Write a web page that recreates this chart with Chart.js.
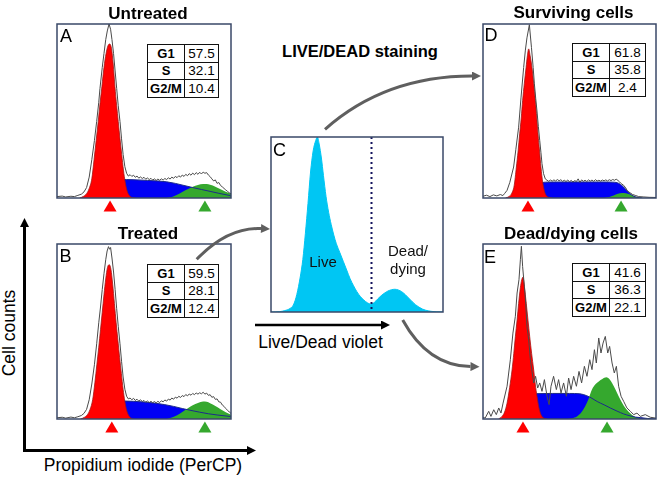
<!DOCTYPE html>
<html>
<head>
<meta charset="utf-8">
<script src="https://cdn.jsdelivr.net/npm/chart.js@4.4.0/dist/chart.umd.min.js"></script>
<style>
  html, body { margin: 0; padding: 0; background: #fff; }
  #fig { position: relative; width: 661px; height: 479px; overflow: hidden;
         font-family: "Liberation Sans", Arial, sans-serif; color: #000; }
  .txt { position: absolute; white-space: nowrap; line-height: 1; transform: translate(-50%, -50%); }
  .ttl { font-weight: bold; font-size: 17px; }
  .ax { font-size: 17.5px; }
  .let { position: absolute; font-size: 18px; line-height: 18px; }
  .pnl { position: absolute; }
  table.ph { position: absolute; border-collapse: collapse; table-layout: fixed; background: #fff; }
  table.ph td { border: 1px solid #111; padding: 0; height: 16.6px; text-align: center;
                font-size: 13.5px; line-height: 1; }
  table.ph td.k { font-weight: bold; font-size: 13px; }
  svg { position: absolute; left: 0; top: 0; pointer-events: none; }
</style>
</head>
<body>
<div id="fig">
  <div class="pnl" id="panelA"></div>
  <div class="pnl" id="panelB"></div>
  <div class="pnl" id="panelC"></div>
  <div class="pnl" id="panelD"></div>
  <div class="pnl" id="panelE"></div>

  <div class="txt ttl" style="left:148px; top:12.5px;">Untreated</div>
  <div class="txt ttl" style="left:148px; top:233px;">Treated</div>
  <div class="txt ttl" style="left:360px; top:51px; font-size:16.5px;">LIVE/DEAD staining</div>
  <div class="txt ttl" style="left:573.5px; top:11.8px;">Surviving cells</div>
  <div class="txt ttl" style="left:571px; top:233px;">Dead/dying cells</div>

  <div class="let" style="left:60px; top:26.6px;">A</div>
  <div class="let" style="left:59.5px; top:247px;">B</div>
  <div class="let" style="left:273px; top:141px;">C</div>
  <div class="let" style="left:484.5px; top:26px;">D</div>
  <div class="let" style="left:484px; top:248px;">E</div>

  <div class="txt" style="left:323px; top:260.5px; font-size:15px; color:#111;">Live</div>
  <div style="position:absolute; left:408px; top:241.5px; transform:translateX(-50%); font-size:15px; line-height:18px; text-align:center; color:#111;">Dead/<br>dying</div>

  <div class="txt ax" style="left:320.5px; top:343px;">Live/Dead violet</div>
  <div class="txt ax" style="left:143px; top:466px;">Propidium iodide (PerCP)</div>
  <div class="txt ax" style="left:10px; top:333px; transform:translate(-50%,-50%) rotate(-90deg);">Cell counts</div>

  <svg width="661" height="479" viewBox="0 0 661 479">
    <defs>
      <marker id="blk" viewBox="0 0 10 10" refX="0" refY="5" markerWidth="9" markerHeight="9"
              markerUnits="userSpaceOnUse" orient="auto">
        <path d="M0 0 L10 5 L0 10 z" fill="#000"/>
      </marker>
      <marker id="gry" viewBox="0 0 10 10" refX="0" refY="5" markerWidth="10" markerHeight="9"
              markerUnits="userSpaceOnUse" orient="auto">
        <path d="M0 0 L10 5 L0 10 z" fill="#5f5f5f"/>
      </marker>
    </defs>
    <path d="M24.5 451.5 L24.5 227" stroke="#000" stroke-width="3" fill="none" marker-end="url(#blk)"/>
    <path d="M23 450.5 L247 450.5" stroke="#000" stroke-width="3" fill="none" marker-end="url(#blk)"/>
    <path d="M255 325 L381 325" stroke="#000" stroke-width="2.5" fill="none" marker-end="url(#blk)"/>
    <path d="M196.7 259.3 Q228 227 261 228.6" stroke="#5f5f5f" stroke-width="3" fill="none" marker-end="url(#gry)"/>
    <path d="M325 129.3 Q385 76 472 76" stroke="#5f5f5f" stroke-width="3" fill="none" marker-end="url(#gry)"/>
    <path d="M402.7 320 Q428 366 470.5 366.6" stroke="#5f5f5f" stroke-width="3" fill="none" marker-end="url(#gry)"/>
  </svg>
</div>

<script>
// x: PI / Live-Dead channel (0-100 across the frame), y: cell counts (0-100 = top of frame)

const phaseLabels = ["G1", "S", "G2/M"];
const untreatedPct = [57.5, 32.1, 10.4];
const treatedPct = [59.5, 28.1, 12.4];
const survivingPct = [61.8, 35.8, 2.4];
const dyingPct = [41.6, 36.3, 22.1];

// peak markers (G1, G2/M channel)
const untreatedMarks = [30.5, 85];
const treatedMarks = [31.5, 85];
const survivingMarks = [26, 79.8];
const dyingMarks = [23.1, 71.7];

// ---- A: untreated
const untreatedTotal = [[0,0.8],[3,1.1],[5,0.6],[8,1],[10,0.8],[12,1.5],[14,2.2],[15.5,3.5],[17,6],[18.5,12],[20,22],[21.5,33],[22.8,44],[24,55],[24.7,63],[26,75],[27,83],[28,91],[28.9,96],[29.9,100],[30.8,97],[31.6,91],[32.5,83],[33.4,73],[34.3,63],[35.2,53],[36.2,44],[37.1,34],[38,25],[39,18],[40,14.2],[41,12.6],[42,13.4],[43,12.4],[44,13.1],[45,11.9],[46,12.6],[47,11.4],[48,12.1],[49,11.2],[50,11.9],[51,10.8],[52,11.5],[53,10.6],[54,11.3],[55,10.3],[56,11],[57,10.1],[58,10.9],[59,10.2],[60,11],[61,10.3],[62,11.2],[63,10.6],[64,11.6],[65,10.9],[66,12],[67,11.3],[68,12.4],[69,11.7],[70,12.8],[71,12],[72,13.2],[73,12.4],[74,13.6],[75,12.8],[76,14],[77,13.1],[78,14.3],[79,13.4],[80,14.6],[81,13.6],[82,14.8],[83,13.8],[84,14.9],[85,14.2],[86,14.6],[87,13.2],[88,12.3],[89,11],[90,9.8],[91,10.4],[92,8.4],[93,8.9],[94,7.2],[95,6.4],[96,5.5],[97,4.6],[98,3.8],[99,3],[100,2.4]];
const untreatedG1 = [[13,0],[15,0.8],[17,2.5],[18.5,5.5],[20,11],[21.3,22],[22.5,33],[23.7,44],[24.8,55],[25.8,64],[27,75],[28.2,83],[29.3,87.5],[30.3,88.5],[31.3,86],[32.3,77],[33.3,64],[34.3,53],[35.2,44],[36.2,34],[37.2,25],[38.2,16],[39.2,9],[40.3,4],[41.5,1.5],[43,0.3],[45,0]];
const untreatedS = [[16,0],[19,0.6],[22,1.6],[25,3.2],[28,5.5],[31,8],[33.5,9.6],[36,10.4],[40,10.6],[46,10.4],[52,10.1],[58,9.8],[63,9.3],[68,8.4],[73,7.2],[78,6],[83,4.9],[88,3.8],[93,2.7],[100,1.3]];
const untreatedG2M = [[63,0],[66,0.6],[69,1.8],[72,3.4],[75,5],[78,6.4],[81,7.4],[84,8],[86,8],[88,7.6],[91,6.5],[94,5],[97,3.6],[100,2.4]];

// ---- B: treated
const treatedTotal = [[0,0.7],[3,1],[5,0.5],[8,1.1],[10,0.7],[12,1.3],[14,2],[15.5,3.2],[17,5.5],[18.5,11],[20,20],[21.5,31],[22.8,43],[24,55],[25,64],[26,74],[27,83],[28,91],[28.8,96],[29.6,98.5],[30.2,97],[30.8,98],[31.6,92],[32.5,84],[33.4,74],[34.3,63],[35.2,53],[36.2,43],[37.1,33],[38,24],[39,17],[40,13],[41,11.5],[42,12],[43,11],[44,11.8],[45,10.6],[46,11.3],[47,10.2],[48,11],[49,10],[50,10.6],[51,9.6],[52,10.3],[53,9.4],[54,10.1],[55,9.3],[56,10],[57,9.2],[58,10.1],[59,9.4],[60,10.4],[61,9.8],[62,10.9],[63,10.2],[64,11.4],[65,10.8],[66,12],[67,11.3],[68,12.5],[69,11.9],[70,13],[71,12.3],[72,13.4],[73,12.8],[74,14],[75,13.2],[76,14.3],[77,13.6],[78,14.6],[79,13.9],[80,14.9],[81,14.2],[82,15],[83,14.4],[84,15.3],[85,14.2],[86,14.8],[87,13.5],[88,13.9],[89,12.4],[90,12.8],[91,11.2],[92,11.5],[93,9.8],[94,9.6],[95,8],[96,7.2],[97,6],[98,5],[99,4],[100,3.2]];
const treatedG1 = [[13.5,0],[15.5,0.8],[17.5,2.5],[19,5.5],[20.5,11],[21.8,21],[22.9,31],[24,41],[25,51],[26,61],[27,71],[28,80],[29,86.5],[30,88.2],[31,85.5],[32,77],[33,66],[34,55],[35,45],[36,35],[37,26],[38,17],[39,10],[40,5],[41.2,2],[42.5,0.5],[44,0]];
const treatedS = [[17,0],[20,0.6],[23,1.7],[26,3.4],[29,5.8],[32,8.3],[35,9.8],[38,10.3],[44,10.1],[50,9.7],[56,9.1],[62,8.2],[67,7.2],[72,6],[77,4.9],[82,3.9],[87,3],[92,2.3],[100,1.4]];
const treatedG2M = [[63,0],[66,0.8],[69,2.2],[72,4],[75,6],[78,7.8],[81,9.2],[84,10],[86,9.8],[88,9],[91,7.4],[94,5.6],[97,3.8],[100,2.4]];

// ---- C: live/dead violet
const liveDeadGate = 58;
const liveDeadCounts = [[0,0],[5,0.2],[8,0.8],[11,2],[13,4],[15,10],[17,20],[18.5,30],[20,45],[21.5,62],[23,80],[24.5,92],[26,98],[27,100],[28,96],[29.3,88],[30.5,78],[32,66],[33.5,57],[35,50],[36.5,44],[38,39],[40,34],[42,29],[44,24],[46,19],[48,15],[50,11.5],[52,8.8],[54,6.8],[56,5.3],[58,4.5],[60,5.4],[62,7.4],[64,9.3],[66,10.8],[68,12],[70,12.7],[72,13],[74,12.6],[76,11.6],[78,10],[80,8],[82,6],[84,4.2],[86,2.8],[88,1.7],[90,1],[93,0.4],[96,0.1],[100,0]];

// ---- D: surviving cells
const survivingTotal = [[0,1],[2,1.6],[4,0.8],[6,1.8],[8,1.2],[10,2],[11.5,1.4],[12.5,2.6],[13.9,4.4],[15.5,9],[17.7,17.8],[19,28],[20.6,40.7],[22,58],[23.5,75],[24.5,85],[25.4,92],[26.8,99.6],[28,86.6],[29,75],[29.7,65.6],[30.5,57],[31.2,50],[32,41],[32.8,33],[33.5,26],[34.1,19.7],[35,14],[36,11],[37,10.2],[38,9.6],[39,10.3],[40,9.7],[41,10.4],[42,9.8],[43,10.6],[44,9.9],[45,10.5],[46,9.6],[47,10.2],[48,9.5],[49,10.3],[50,9.4],[51,10.1],[52,9.2],[53,10],[54,9.5],[55,11],[56,9],[57,10.4],[58,9.6],[59,10.2],[60,9.5],[61,10.4],[62,9.7],[63,10.3],[64,9.6],[65,10.5],[66,9.8],[67,10.2],[68,9.7],[69,10.3],[70,9.9],[71,10.4],[72,9.8],[73,10.5],[74,10],[75,10.6],[76,10.2],[77,10.8],[78,10.1],[79,9.2],[80,8.2],[81.3,7.3],[82.5,5.8],[83.5,4],[85,3],[86.5,2],[88,1.5],[90,0.8],[93,0.6],[96,0.4],[100,0.3]];
const survivingG1 = [[13,0],[15,0.8],[16.5,2.5],[18,7],[19.3,17.8],[20.3,27],[21.2,36.9],[22.1,46],[22.9,56],[23.9,66],[24.9,75],[25.7,82],[26.4,85.7],[27.2,82],[28.3,75],[29.3,66],[30.3,56],[31.1,46],[31.8,36.9],[32.7,27],[33.5,17.8],[34.5,9],[35.5,4],[36.5,1.5],[38,0.4],[40,0]];
const survivingS = [[13.9,0],[17,0.6],[20,1.3],[23.5,2.5],[26,4.2],[28.3,6.3],[30.5,7.8],[33,8.6],[36,9.1],[42,9.2],[50,9.2],[60,9.2],[70,9.2],[75,9.1],[77.5,8.8],[79.5,7.8],[81.3,6.3],[83,4.4],[85,2.5],[87,1.1],[89,0.4],[92,0]];
const survivingG2M = [[70,0],[73,0.6],[75.5,1.5],[78,2.4],[80.3,2.9],[82.5,2.7],[85,2],[87.5,1],[90,0.3],[93,0]];

// ---- E: dead/dying cells
const dyingTotal = [[0,0.8],[1.3,0.6],[3.3,4.4],[4.6,1.5],[6.2,5.3],[7.7,2.5],[9.1,6.3],[10.4,3.4],[11.6,9.1],[13.9,18.7],[15.8,33.9],[17.3,49.1],[18.7,58.7],[19.7,72],[20.8,79.6],[21.6,91],[22.2,98.7],[22.9,87.2],[23.9,75.8],[24.7,66.3],[25.4,53],[26.4,45.3],[27.4,33.9],[28.3,27.2],[29.3,20.6],[30.4,24.4],[31.6,17.7],[32.8,20.6],[34.1,15.8],[35.5,22.5],[37,13],[38.2,8.2],[39.3,18.7],[40.8,24.4],[42.4,16.8],[43.7,22.5],[45.1,14.9],[46.6,20.6],[48.2,13],[49.5,23.4],[50.9,16.8],[52.4,24.4],[54,18.7],[55.5,27.2],[57,20.6],[58.6,30.1],[60.1,24.4],[61.7,33.9],[63,28.2],[64.4,39.6],[65.5,32],[66.9,46.3],[68.2,37.7],[69.4,43.4],[70.7,47.2],[72.1,37.7],[73.2,41.5],[74.6,32],[75.9,26.3],[77.1,30.1],[78.4,18.7],[79.8,13],[81.3,10.1],[83.2,6.3],[85.2,4.4],[87.1,2.5],[89,3.4],[90.9,1.5],[93.8,2.5],[96.7,1],[100,0.5]];
const dyingG1 = [[9,0],[11,1.5],[12.5,4],[13.9,9],[15.4,18],[16.8,28],[17.8,37.5],[18.7,47],[19.7,56.5],[20.6,66],[21.6,75],[22.4,79.5],[23.1,81],[23.9,76],[25,66],[26,56.5],[27,47],[28.1,37.5],[29.3,28],[30.2,20],[31.2,13],[32.3,6.5],[33.5,2.5],[35,0.6],[37,0]];
const dyingS = [[11,0],[14,0.8],[17.7,2.5],[20.5,5.2],[23.5,9],[26,12],[28.3,14],[31,14.5],[40,14.6],[50,14.6],[56,14.4],[60,13.3],[63,11.8],[66,10],[70,8.1],[73.6,6.3],[77.5,4.5],[81.3,2.9],[85,1.8],[88,1.1],[91,0.8],[95,0.3],[100,0]];
const dyingG2M = [[48.5,0],[51.5,0.5],[54.3,1.5],[57,4],[59,7.2],[61,11.5],[63,16.8],[65,19.8],[66.9,21.5],[69,22.9],[71.3,23.8],[73,22.8],[74.6,20.6],[76.5,17],[78.4,13],[80.3,9.4],[82.3,6.3],[84.2,4.1],[86,2.5],[88,1.2],[90,0.5],[92,0]];

const RED = "#ff0000", BLUE = "#0000f5", GREEN = "#35a82e", CYAN = "#00c6f3";
const FRAME = "#3a4868";
const PAD = 3, PAD_BOTTOM = 18;

function pts(arr) {
  return arr.map(p => ({ x: p[0], y: p[1] }));
}

function cycleDatasets(total, g1, s, g2m) {
  // first dataset is drawn on top
  return [
    { data: pts(total), borderColor: "#4a4a4a", borderWidth: 1, fill: false, tension: 0 },
    { data: pts(g1), borderColor: "#a51515", borderWidth: 0.8, backgroundColor: RED, fill: "origin", cubicInterpolationMode: "monotone" },
    { data: pts(s), borderColor: "#1c2a8a", borderWidth: 1, fill: false, cubicInterpolationMode: "monotone" },
    { data: pts(g2m), borderColor: "transparent", borderWidth: 1, backgroundColor: GREEN, fill: "origin", cubicInterpolationMode: "monotone" },
    { data: pts(s), borderColor: "transparent", borderWidth: 1, backgroundColor: BLUE, fill: "origin", cubicInterpolationMode: "monotone" }
  ];
}

function makeChart(id, box, datasets, marks, gate) {
  const [left, top, w, h] = box;
  const holder = document.getElementById(id);
  holder.style.left = (left - PAD) + "px";
  holder.style.top = (top - PAD) + "px";
  const canvas = document.createElement("canvas");
  canvas.width = w + 2 * PAD;
  canvas.height = h + PAD + PAD_BOTTOM;
  canvas.style.width = canvas.width + "px";
  canvas.style.height = canvas.height + "px";
  holder.appendChild(canvas);

  const decor = {
    id: "decor_" + id,
    afterDatasetsDraw(chart) {
      const { ctx, chartArea: a, scales: { x } } = chart;
      ctx.save();
      if (gate != null) {
        const gx = Math.round(x.getPixelForValue(gate)) + 0.5;
        ctx.strokeStyle = "#14145e";
        ctx.lineWidth = 2;
        ctx.setLineDash([2, 3]);
        ctx.beginPath();
        ctx.moveTo(gx, a.top);
        ctx.lineTo(gx, a.bottom);
        ctx.stroke();
        ctx.setLineDash([]);
      }
      (marks || []).forEach((m, i) => {
        const cx = x.getPixelForValue(m);
        ctx.fillStyle = i === 0 ? RED : GREEN;
        ctx.beginPath();
        ctx.moveTo(cx, a.bottom + 2.5);
        ctx.lineTo(cx + 6.5, a.bottom + 13.5);
        ctx.lineTo(cx - 6.5, a.bottom + 13.5);
        ctx.closePath();
        ctx.fill();
      });
      ctx.strokeStyle = FRAME;
      ctx.lineWidth = 1.5;
      ctx.strokeRect(a.left, a.top, a.width, a.height);
      ctx.restore();
    }
  };

  return new Chart(canvas, {
    type: "line",
    data: { datasets: datasets },
    options: {
      responsive: false,
      animation: false,
      events: [],
      layout: { padding: { left: PAD, right: PAD, top: PAD, bottom: PAD_BOTTOM } },
      elements: { point: { radius: 0 } },
      scales: {
        x: { type: "linear", min: 0, max: 100, display: false },
        y: { min: 0, max: 100, display: false }
      },
      plugins: { legend: { display: false }, tooltip: { enabled: false } }
    },
    plugins: [decor]
  });
}

function makeTable(left, top, widths, pct) {
  const t = document.createElement("table");
  t.className = "ph";
  t.style.left = left + "px";
  t.style.top = top + "px";
  t.style.width = (widths[0] + widths[1]) + "px";
  phaseLabels.forEach((lab, i) => {
    const tr = document.createElement("tr");
    const k = document.createElement("td");
    k.className = "k";
    k.style.width = widths[0] + "px";
    k.textContent = lab;
    const v = document.createElement("td");
    v.textContent = pct[i].toFixed(1);
    tr.appendChild(k);
    tr.appendChild(v);
    t.appendChild(tr);
  });
  document.getElementById("fig").appendChild(t);
}

makeChart("panelA", [57, 23.5, 174, 174], cycleDatasets(untreatedTotal, untreatedG1, untreatedS, untreatedG2M), untreatedMarks);
makeChart("panelB", [57, 244, 174, 175], cycleDatasets(treatedTotal, treatedG1, treatedS, treatedG2M), treatedMarks);
makeChart("panelD", [483, 23.5, 173, 174], cycleDatasets(survivingTotal, survivingG1, survivingS, survivingG2M), survivingMarks);
makeChart("panelE", [483, 244, 173, 175], cycleDatasets(dyingTotal, dyingG1, dyingS, dyingG2M), dyingMarks);
makeChart("panelC", [271, 137, 172, 175], [
  { data: pts(liveDeadCounts), borderColor: CYAN, borderWidth: 1, backgroundColor: CYAN, fill: "origin", cubicInterpolationMode: "monotone" }
], [], liveDeadGate);

makeTable(147, 44, [36, 36], untreatedPct);
makeTable(147, 264, [36, 36], treatedPct);
makeTable(572, 43, [36, 38], survivingPct);
makeTable(572, 263, [36, 38], dyingPct);
</script>
</body>
</html>
